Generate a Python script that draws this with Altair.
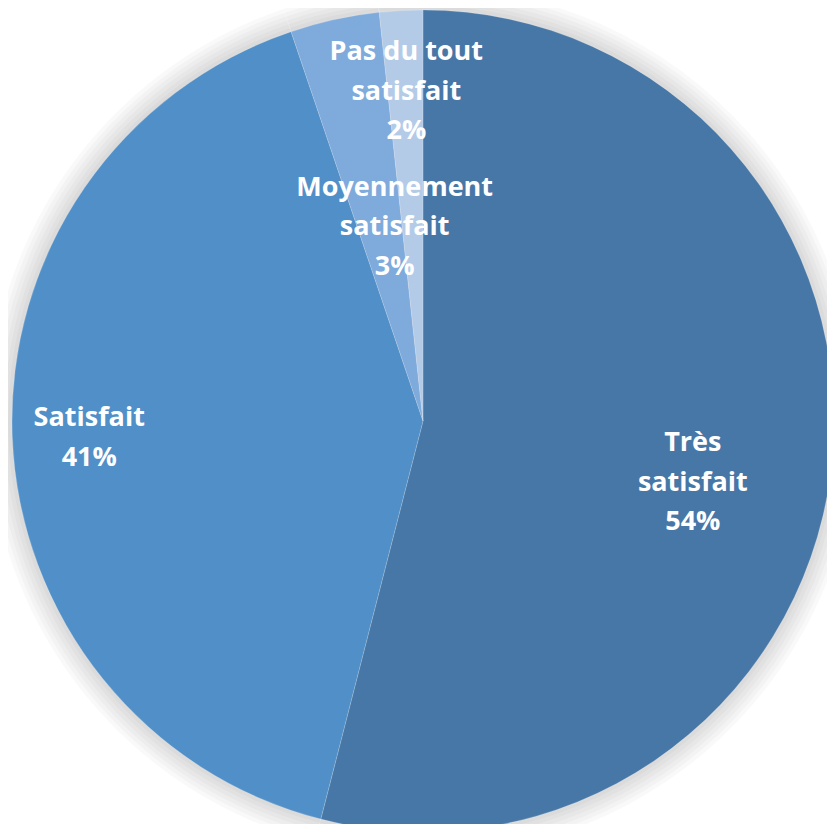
import math
import altair as alt
import pandas as pd

categories = ["Très satisfait", "Satisfait", "Moyennement satisfait", "Pas du tout satisfait"]
values = [54.0, 40.8, 3.5, 1.7]
labels = ["Très\nsatisfait\n54%", "Satisfait\n41%", "Moyennement\nsatisfait\n3%", "Pas du tout\nsatisfait\n2%"]
colors = ["#4677A7", "#508FC7", "#7EAADC", "#B4CBE8"]

df = pd.DataFrame({"cat": categories, "value": values, "label": labels, "order": list(range(len(categories)))})
total = float(sum(values))

CX, CY, R = 415, 413, 411
theta_scale = alt.Scale(domain=[0, total], range=[0, 2 * math.pi])
base = alt.Chart(df)

# soft halo shadow
halo_layers = []
for k in range(6, 0, -1):
    halo_layers.append(
        base.mark_arc(color="#000000", opacity=0.022, stroke=None).encode(
            theta=alt.Theta("value:Q", stack=True, scale=theta_scale),
            order=alt.Order("order:Q"),
            radius=alt.value(R + 4 * k),
            x=alt.value(CX), y=alt.value(CY),
        )
    )

pie = base.mark_arc(stroke="#ffffff", strokeWidth=0.5, strokeOpacity=0.35).encode(
    theta=alt.Theta("value:Q", stack=True, scale=theta_scale),
    order=alt.Order("order:Q"),
    color=alt.Color("cat:N", scale=alt.Scale(domain=categories, range=colors), legend=None),
    radius=alt.value(R),
    x=alt.value(CX), y=alt.value(CY),
)

# label placement per slice: (radius, dx, dy)
placements = {
    "Très satisfait": (277, -5, -12.5),
    "Satisfait": (334, 0, -15.5),
    "Moyennement satisfait": (197, 14, -41),
    "Pas du tout satisfait": (331, 1, -38),
}

text_layers = []
for cat in categories:
    r, dx, dy = placements[cat]
    text_layers.append(
        base.transform_window(cum="sum(value)", sort=[alt.SortField("order")])
        .transform_calculate(mid="datum.cum - datum.value / 2")
        .transform_filter(alt.datum.cat == cat)
        .mark_text(font="Open Sans", fontWeight="bold", fontSize=27, color="#ffffff",
                   lineBreak="\n", lineHeight=39.5, align="center", baseline="middle",
                   dx=dx, dy=dy)
        .encode(
            theta=alt.Theta("mid:Q", scale=theta_scale),
            radius=alt.value(r),
            text="label:N",
            x=alt.value(CX), y=alt.value(CY),
        )
    )

chart = alt.layer(*halo_layers, pie, *text_layers).properties(
    width=819, height=816, padding=0, autosize=alt.AutoSizeParams(type="none"),
    background="#ffffff",
).configure_view(stroke=None)

chart.save("out.html", embed_options={"renderer": "svg", "actions": False})
